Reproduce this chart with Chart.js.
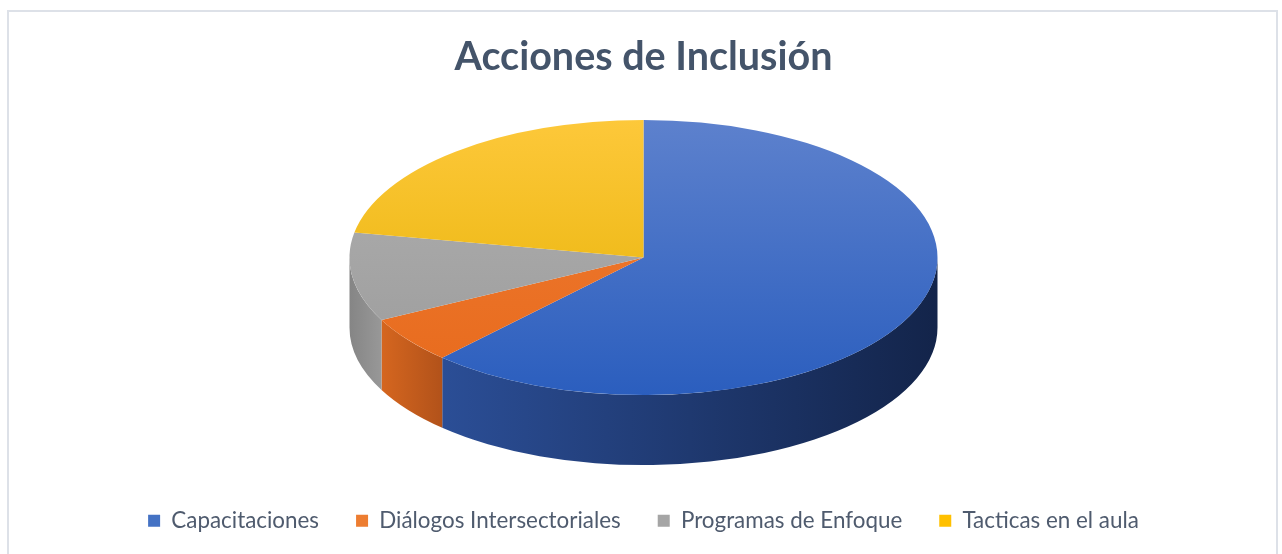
<!DOCTYPE html>
<html>
<head>
<meta charset="utf-8">
<script src="https://cdn.jsdelivr.net/npm/chart.js@4"></script>
<style>
  html, body { margin: 0; padding: 0; background: #fff; }
  #wrap { width: 1282px; height: 554px; }
</style>
</head>
<body>
<div id="wrap"><canvas id="pieChart"></canvas></div>
<script>
// --- Data ---
const categories = ['Capacitaciones', 'Diálogos Intersectoriales', 'Programas de Enfoque', 'Tacticas en el aula'];
const values = [62, 5.5, 10.4, 22.1];

// --- Colours ---
const legendColors = ['#4472c4', '#ed7d31', '#a5a5a5', '#ffc000'];
const topLight = ['#5d81cd', '#f07c34', '#b0b0b0', '#fdc83a'];
const topDark = ['#2b5ebe', '#e76a1c', '#9b9b9b', '#e4b000'];
const sideLeft = ['#2b4e96', '#d5661f', '#858585', '#c99a00'];
const sideRight = ['#13244a', '#b2521a', '#989898', '#a88000'];

const TILT = 0.468;   // vertical squash of the disc
const DEPTH = 70;     // thickness of the disc
const RADIUS = 294;

// fake 3D: squash the pie and draw the outer wall under it
const pie3d = {
    id: 'pie3d',
    beforeDraw(chart) {
        const ctx = chart.ctx;
        ctx.save();
        ctx.fillStyle = '#fff';
        ctx.fillRect(0, 0, chart.width, chart.height);
        ctx.strokeStyle = '#dde1e8';
        ctx.lineWidth = 2;
        ctx.strokeRect(8, 11, 1269, 600);
        ctx.restore();
    },
    beforeDatasetsDraw(chart) {
        const ctx = chart.ctx;
        const meta = chart.getDatasetMeta(0);
        const first = meta.data[0];
        const cx = first.x;
        const cy = first.y - DEPTH / 2;
        const r = first.outerRadius;
        const ry = r * TILT;

        // side walls (only the front half is visible)
        meta.data.forEach((arc, i) => {
            const a1 = Math.max(arc.startAngle, 0);
            const a2 = Math.min(arc.endAngle, Math.PI);
            if (a2 <= a1) return;
            const g = ctx.createLinearGradient(cx + r * Math.cos(a2), 0, cx + r * Math.cos(a1), 0);
            g.addColorStop(0, sideLeft[i]);
            g.addColorStop(1, sideRight[i]);
            ctx.beginPath();
            ctx.ellipse(cx, cy, r, ry, 0, a1, a2, false);
            ctx.lineTo(cx + r * Math.cos(a2), cy + DEPTH + ry * Math.sin(a2));
            ctx.ellipse(cx, cy + DEPTH, r, ry, 0, a2, a1, true);
            ctx.closePath();
            ctx.fillStyle = g;
            ctx.fill();
        });

        // squash the top face
        ctx.save();
        ctx.translate(cx, cy);
        ctx.scale(1, TILT);
        ctx.translate(-cx, -first.y);
    },
    afterDatasetsDraw(chart) {
        chart.ctx.restore();
    }
};

function topFill(c) {
    const area = c.chart.chartArea;
    const i = c.dataIndex;
    if (!area) return legendColors[i];
    const cy = (area.top + area.bottom) / 2;
    const g = c.chart.ctx.createLinearGradient(0, cy - RADIUS, 0, cy + RADIUS);
    g.addColorStop(0, topLight[i]);
    g.addColorStop(1, topDark[i]);
    return g;
}

new Chart(document.getElementById('pieChart'), {
    type: 'pie',
    data: {
        labels: categories,
        datasets: [{
            data: values,
            backgroundColor: topFill,
            borderWidth: 0,
            radius: RADIUS,
            clip: false
        }]
    },
    options: {
        responsive: true,
        maintainAspectRatio: false,
        animation: false,
        events: [],
        layout: {
            padding: { left: 5, right: 0, top: 0, bottom: 12 }
        },
        plugins: {
            title: {
                display: true,
                text: 'Acciones de Inclusión',
                color: '#44546a',
                font: { family: 'Lato', size: 39.5, weight: 'bold' },
                padding: { top: 34, bottom: 31 }
            },
            legend: {
                position: 'bottom',
                labels: {
                    color: '#4f5b6e',
                    font: { family: 'Lato', size: 22.4 },
                    boxWidth: 12,
                    boxHeight: 12,
                    padding: 37,
                    generateLabels(chart) {
                        const base = Chart.overrides.pie.plugins.legend.labels.generateLabels(chart);
                        return base.map((item, i) => Object.assign(item, {
                            fillStyle: legendColors[i],
                            strokeStyle: legendColors[i],
                            lineWidth: 0
                        }));
                    }
                }
            },
            tooltip: { enabled: false }
        }
    },
    plugins: [pie3d]
});
</script>
</body>
</html>
